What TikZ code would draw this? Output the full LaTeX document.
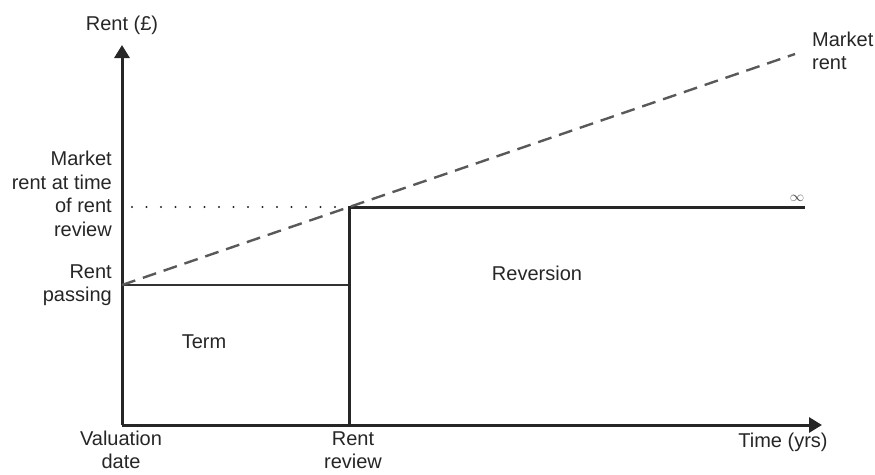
\documentclass[tikz,border=0pt]{standalone}
\usepackage{fontspec}
\setmainfont{Liberation Sans}
\usetikzlibrary{positioning,arrows.meta}

\begin{document}
\begin{tikzpicture}[x=1pt,y=-1pt,
  axis/.style={line width=3pt, draw=black!85, -{Triangle[length=13pt,width=15pt]}},
  rentline/.style={line width=3pt, draw=black!85},
  termline/.style={line width=2.2pt, draw=black!80},
  marketline/.style={line width=2.4pt, draw=black!65, dash pattern=on 14pt off 8pt},
  label/.style={inner sep=0pt, font=\fontsize{20}{23.5}\selectfont, text=black!85}
]
\useasboundingbox (0,0) rectangle (875,474);

% key points of the graph
\coordinate (O) at (122,425);
\coordinate (ytip) at (122,45);
\coordinate (xtip) at (822,425);
\coordinate (pass) at (122,285); % rent passing
\coordinate (rev) at (349,207);  % market rent at review
\coordinate (revpass) at (349,285);
\coordinate (revbase) at (349,425);
\coordinate (infty) at (805,207);
\coordinate (mkt) at (795,54);
\coordinate (dotstart) at (132,207);

% axes
\draw[axis] (O) -- (ytip);
\draw[axis] (O) -- (xtip);

% term and reversion
\draw[termline] (pass) -- (revpass);
\draw[rentline] (revbase) -- (rev) -- (infty);

% market rent
\draw[marketline] (pass) -- (mkt);
\draw[black!85, line width=2.2pt, line cap=round, dash pattern=on 0pt off 14.5pt] (dotstart) -- (rev);

% labels
\node[label] (yname) at (122,25) {Rent (£)};
\node[label, anchor=east, align=right] (mktrev) at (112,194) {Market\\rent at time\\of rent\\review};
\node[label, anchor=east, align=right] (passing) at (112,285) {Rent\\passing};
\node[label, anchor=west, align=left] (mktname) at (812,51) {Market\\rent};
\node[label, text=black!70, font=\fontsize{15}{18}\selectfont] (inf) at (797,198) {$\infty$};
\node[label] (term) at (204,342) {Term};
\node[label] (reversion) at (537,273) {Reversion};
\node[label, align=center] (valdate) at (121,450) {Valuation\\date};
\node[label, align=center] (review) at (353,450) {Rent\\review};
\node[label] (xname) at (783,442) {Time (yrs)};
\end{tikzpicture}
\end{document}
